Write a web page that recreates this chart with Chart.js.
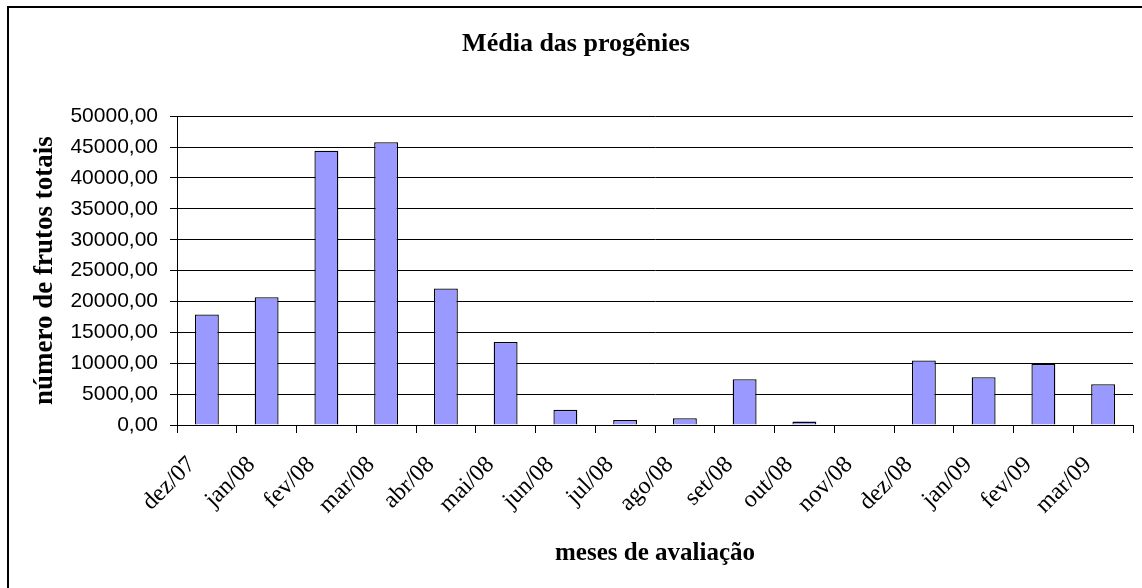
<!DOCTYPE html>
<html>
<head>
<meta charset="utf-8">
<script src="https://cdn.jsdelivr.net/npm/chart.js@4"></script>
<style>
  html, body { margin: 0; padding: 0; background: #fff; }
  #wrap { width: 1142px; height: 588px; }
</style>
</head>
<body>
<div id="wrap"><canvas id="myBarChart"></canvas></div>
<script>
// Data
const months = ['dez/07', 'jan/08', 'fev/08', 'mar/08', 'abr/08', 'mai/08', 'jun/08', 'jul/08',
  'ago/08', 'set/08', 'out/08', 'nov/08', 'dez/08', 'jan/09', 'fev/09', 'mar/09'];
const frutosTotais = [17900, 20700, 44400, 45800, 22100, 13450, 2450, 800,
  1100, 7400, 550, 0, 10450, 7750, 9900, 6600];
const yTickValues = [0, 5000, 10000, 15000, 20000, 25000, 30000, 35000, 40000, 45000, 50000];

// White background plus the outer chart frame (only left and top edges are visible)
const framePlugin = {
  id: 'frame',
  beforeDraw(chart) {
    const ctx = chart.ctx;
    ctx.save();
    ctx.fillStyle = '#fff';
    ctx.fillRect(0, 0, chart.width, chart.height);
    ctx.strokeStyle = '#000';
    ctx.lineWidth = 2;
    ctx.strokeRect(8, 7, chart.width + 20, chart.height + 20);
    ctx.restore();
  }
};

function formatNumber(value) {
  return Number(value).toFixed(2).replace('.', ',');
}

const serif = "'Liberation Serif', 'Times New Roman', serif";

const ctx = document.getElementById('myBarChart').getContext('2d');
new Chart(ctx, {
  type: 'bar',
  data: {
    labels: months,
    datasets: [{
      label: 'Média das progênies',
      data: frutosTotais,
      backgroundColor: '#9999ff',
      borderColor: '#000',
      borderWidth: 1.3,
      barPercentage: 0.4,
      categoryPercentage: 1.0
    }]
  },
  options: {
    responsive: true,
    maintainAspectRatio: false,
    animation: false,
    devicePixelRatio: 1,
    layout: {
      padding: { left: 19, right: 9, top: 0, bottom: 0 }
    },
    scales: {
      x: {
        afterFit: function(scale) { scale.height = 163; },
        grid: {
          display: true,
          drawOnChartArea: false,
          drawTicks: true,
          tickLength: 8,
          color: '#000',
          offset: true
        },
        border: { display: true, color: '#000', width: 1 },
        ticks: {
          autoSkip: false,
          minRotation: 45,
          maxRotation: 45,
          padding: 18,
          labelOffset: -15,
          color: '#000',
          font: { family: serif, size: 24 }
        },
        title: {
          display: true,
          text: 'meses de avaliação',
          color: '#000',
          font: { family: serif, size: 25, weight: 'bold' },
          padding: { top: 0, bottom: 19 }
        }
      },
      y: {
        min: 0,
        max: 50000,
        afterFit: function(scale) { scale.width = 158; },
        afterBuildTicks: function(scale) {
          scale.ticks = yTickValues.map(v => ({ value: v }));
        },
        grid: {
          color: '#000',
          lineWidth: 1,
          drawTicks: true,
          tickLength: 7
        },
        border: { display: true, color: '#000', width: 1 },
        ticks: {
          padding: 12,
          color: '#000',
          font: { family: "'Liberation Sans', Arial, sans-serif", size: 21 },
          callback: function(value) {
            return formatNumber(value);
          }
        },
        title: {
          display: true,
          text: 'número de frutos totais',
          color: '#000',
          font: { family: serif, size: 27, weight: 'bold' },
          padding: { top: 10, bottom: 0 }
        }
      }
    },
    plugins: {
      legend: { display: false },
      tooltip: { enabled: false },
      title: {
        display: true,
        text: 'Média das progênies',
        color: '#000',
        font: { family: serif, size: 26, weight: 'bold' },
        padding: { top: 29, bottom: 56 }
      }
    }
  },
  plugins: [framePlugin]
});
</script>
</body>
</html>
